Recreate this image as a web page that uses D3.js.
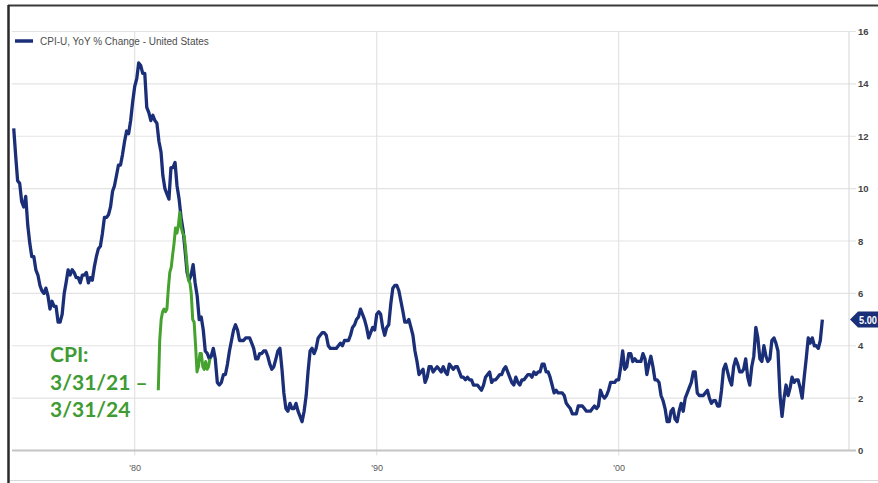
<!DOCTYPE html>
<html>
<head>
<meta charset="utf-8">
<script src="https://cdn.jsdelivr.net/npm/d3@7"></script>
<style>
  html, body { margin: 0; padding: 0; background: #fff; }
  svg { display: block; }
</style>
</head>
<body>
<svg id="chart" width="878" height="483"></svg>
<script>
// CPI-U, YoY % change, monthly from Jan 1975
const cpiStart = [1975, 0];
const cpiValues = [
  12.3, 11.2, 10.3, 10.2, 9.5, 9.3, 9.7, 8.6, 7.9, 7.4, 7.4, 6.9,   // 1975
  6.7, 6.3, 6.1, 6.0, 6.2, 5.9, 5.4, 5.7, 5.5, 5.5, 4.9, 4.9,       // 1976
  5.2, 6.0, 6.4, 6.9, 6.7, 6.9, 6.8, 6.6, 6.6, 6.4, 6.7, 6.7,       // 1977
  6.8, 6.4, 6.6, 6.5, 7.0, 7.4, 7.7, 7.8, 8.3, 8.9, 8.9, 9.0,       // 1978
  9.3, 9.9, 10.1, 10.5, 10.9, 10.9, 11.3, 11.8, 12.2, 12.1, 12.6, 13.3, // 1979
  13.9, 14.2, 14.8, 14.7, 14.4, 14.4, 13.1, 12.9, 12.6, 12.8, 12.6, 12.5, // 1980
  11.8, 11.4, 10.5, 10.0, 9.8, 9.6, 10.8, 10.8, 11.0, 10.1, 9.6, 8.9, // 1981
  8.4, 7.6, 6.8, 6.5, 6.7, 7.1, 6.4, 5.9, 5.0, 5.1, 4.6, 3.8,       // 1982
  3.7, 3.5, 3.6, 3.9, 3.5, 2.6, 2.5, 2.6, 2.9, 2.9, 3.3, 3.8,       // 1983
  4.2, 4.6, 4.8, 4.6, 4.2, 4.2, 4.2, 4.3, 4.3, 4.3, 4.1, 3.9,       // 1984
  3.5, 3.5, 3.7, 3.7, 3.8, 3.8, 3.6, 3.3, 3.1, 3.2, 3.5, 3.8,       // 1985
  3.9, 3.1, 2.2, 1.6, 1.5, 1.8, 1.6, 1.6, 1.8, 1.5, 1.3, 1.1,       // 1986
  1.5, 2.1, 3.0, 3.8, 3.9, 3.7, 3.9, 4.3, 4.4, 4.5, 4.5, 4.4,       // 1987
  4.0, 3.9, 3.9, 3.9, 3.9, 4.0, 4.1, 4.0, 4.2, 4.2, 4.2, 4.4,       // 1988
  4.7, 4.8, 5.0, 5.1, 5.4, 5.2, 5.0, 4.7, 4.3, 4.5, 4.7, 4.6,       // 1989
  5.2, 5.3, 5.2, 4.7, 4.4, 4.7, 4.8, 5.6, 6.2, 6.3, 6.3, 6.1,       // 1990
  5.7, 5.3, 4.9, 4.9, 5.0, 4.7, 4.4, 3.8, 3.4, 2.9, 3.0, 3.1,       // 1991
  2.6, 2.8, 3.2, 3.2, 3.0, 3.1, 3.2, 3.1, 3.0, 3.2, 3.0, 2.9,       // 1992
  3.3, 3.2, 3.1, 3.2, 3.2, 3.0, 2.8, 2.8, 2.7, 2.8, 2.7, 2.7,       // 1993
  2.5, 2.5, 2.5, 2.4, 2.3, 2.5, 2.8, 2.9, 3.0, 2.6, 2.7, 2.7,       // 1994
  2.8, 2.9, 2.9, 3.1, 3.2, 3.0, 2.8, 2.6, 2.5, 2.8, 2.6, 2.5,       // 1995
  2.7, 2.7, 2.8, 2.9, 2.9, 2.8, 3.0, 2.9, 3.0, 3.0, 3.3, 3.3,       // 1996
  3.0, 3.0, 2.8, 2.5, 2.2, 2.3, 2.2, 2.2, 2.2, 2.1, 1.8, 1.7,       // 1997
  1.6, 1.4, 1.4, 1.4, 1.7, 1.7, 1.7, 1.6, 1.5, 1.5, 1.5, 1.6,       // 1998
  1.7, 1.6, 1.7, 2.3, 2.1, 2.0, 2.1, 2.3, 2.6, 2.6, 2.6, 2.7,       // 1999
  2.7, 3.2, 3.8, 3.1, 3.2, 3.7, 3.7, 3.4, 3.5, 3.4, 3.4, 3.4,       // 2000
  3.7, 3.5, 2.9, 3.3, 3.6, 3.2, 2.7, 2.7, 2.6, 2.1, 1.9, 1.6,       // 2001
  1.1, 1.1, 1.5, 1.6, 1.2, 1.1, 1.5, 1.8, 1.5, 2.0, 2.2, 2.4,       // 2002
  2.6, 3.0, 3.0, 2.2, 2.1, 2.1, 2.1, 2.2, 2.3, 2.0, 1.8, 1.9,       // 2003
  1.9, 1.7, 1.7, 2.3, 3.1, 3.3, 3.0, 2.7, 2.5, 3.2, 3.5, 3.3,       // 2004
  3.0, 3.0, 3.1, 3.5, 2.8, 2.5, 3.2, 3.6, 4.7, 4.3, 3.5, 3.4,       // 2005
  4.0, 3.6, 3.4, 3.5, 4.2, 4.3, 4.1, 3.8, 2.1, 1.3, 2.0, 2.5,       // 2006
  2.1, 2.4, 2.8, 2.6, 2.7, 2.7, 2.4, 2.0, 2.8, 3.5, 4.3, 4.1,       // 2007
  4.3, 4.0, 4.0, 3.9, 4.2, 5.0                                      // 2008
];

// Overlay: CPI 3/31/21 - 3/31/24, monthly, pasted over the early '80s
const overlayStart = [2021, 2];
const overlayValues = [
  2.3, 4.2, 5.0, 5.3, 5.4, 5.3, 5.4, 6.2, 6.8, 7.0, 7.5, 7.9,
  8.5, 8.3, 8.6, 9.1, 8.5, 8.3, 8.2, 7.7, 7.1, 6.5, 6.4, 6.0,
  5.0, 4.9, 4.0, 3.0, 3.2, 3.7, 3.7, 3.2, 3.1, 3.4, 3.1, 3.2, 3.5
];
// where the overlay sits on the main time axis
const overlayPlaced = [new Date(1980, 11, 22), new Date(1983, 1, 10)];

const yTicks = [0, 2, 4, 6, 8, 10, 12, 14, 16];
const xTickYears = [1980, 1990, 2000];
const xTickLabels = ["'80", "'90", "'00"];
const legendLabel = "CPI-U, YoY % Change - United States";
const lastLabel = "5.00";
const noteLines = ["CPI:", "3/31/21 \u2013", "3/31/24"];

const navy = '#1b2f78';
const green = '#45a22f';

const svg = d3.select('#chart');
const plot = { left: 12, right: 849, top: 31.5, bottom: 450.5 };

const x = d3.scaleTime()
    .domain([new Date(1974, 11, 6), new Date(2009, 6, 8)])
    .range([plot.left, plot.right]);
const y = d3.scaleLinear()
    .domain([0, 16])
    .range([plot.bottom, plot.top]);

const cpi = cpiValues.map((v, i) => ({ date: new Date(cpiStart[0], cpiStart[1] + i, 1), value: v }));
const overlay = overlayValues.map((v, i) => ({ date: new Date(overlayStart[0], overlayStart[1] + i + 1, 0), value: v }));
const xOverlay = d3.scaleTime()
    .domain([overlay[0].date, overlay[overlay.length - 1].date])
    .range(overlayPlaced.map(d => x(d)));

// outer frame
svg.append('rect').attr('x', 0).attr('y', 0).attr('width', 878).attr('height', 483).attr('fill', '#fff');
svg.append('line').attr('x1', 8).attr('x2', 878).attr('y1', 5.5).attr('y2', 5.5)
    .attr('stroke', '#3a3a3a').attr('stroke-width', 2);
svg.append('line').attr('x1', 8.5).attr('x2', 8.5).attr('y1', 5).attr('y2', 483)
    .attr('stroke', '#2a2a2a').attr('stroke-width', 2.5);
svg.append('line').attr('x1', 10).attr('x2', 878).attr('y1', 480.5).attr('y2', 480.5)
    .attr('stroke', '#d8d8d8').attr('stroke-width', 1);

// gridlines
svg.append('g')
  .selectAll('line')
  .data(yTicks.filter(d => d > 0))
  .join('line')
    .attr('x1', plot.left).attr('x2', plot.right + 7)
    .attr('y1', d => y(d)).attr('y2', d => y(d))
    .attr('stroke', '#e3e3e3').attr('stroke-width', 1.2);

svg.append('g')
  .selectAll('line')
  .data(xTickYears)
  .join('line')
    .attr('x1', d => x(new Date(d, 0, 1))).attr('x2', d => x(new Date(d, 0, 1)))
    .attr('y1', plot.top).attr('y2', plot.bottom + 5)
    .attr('stroke', '#e3e3e3').attr('stroke-width', 1.2);

// right plot edge and bottom axis line
svg.append('line').attr('x1', plot.right).attr('x2', plot.right)
    .attr('y1', plot.top).attr('y2', plot.bottom)
    .attr('stroke', '#dcdcdc').attr('stroke-width', 1.2);
svg.append('line').attr('x1', plot.left).attr('x2', plot.right + 7)
    .attr('y1', plot.bottom).attr('y2', plot.bottom)
    .attr('stroke', '#c4c4c4').attr('stroke-width', 2);

// y axis on the right
const yAxis = d3.axisRight(y).tickValues(yTicks).tickSize(0).tickPadding(9);
const yg = svg.append('g').attr('transform', `translate(${plot.right},0)`).call(yAxis);
yg.select('.domain').remove();
yg.selectAll('text')
    .attr('font-family', 'Liberation Sans, Arial, sans-serif')
    .attr('font-size', 9.5).attr('font-weight', 'bold').attr('fill', '#444');

// x axis labels
const xAxis = d3.axisBottom(x)
    .tickValues(xTickYears.map(d => new Date(d, 0, 1)))
    .tickFormat((d, i) => xTickLabels[i])
    .tickSize(0).tickPadding(14);
const xg = svg.append('g').attr('transform', `translate(0,${plot.bottom})`).call(xAxis);
xg.select('.domain').remove();
xg.selectAll('text')
    .attr('font-family', 'Liberation Sans, Arial, sans-serif')
    .attr('font-size', 9).attr('fill', '#5a5a5a');

// lines
const line = d3.line().x(d => x(d.date)).y(d => y(d.value));
svg.append('path').datum(cpi)
    .attr('d', line)
    .attr('fill', 'none').attr('stroke', navy).attr('stroke-width', 3.3)
    .attr('stroke-linejoin', 'round');

const overlayLine = d3.line().x(d => xOverlay(d.date)).y(d => y(d.value));
svg.append('path').datum(overlay)
    .attr('d', overlayLine)
    .attr('fill', 'none').attr('stroke', green).attr('stroke-width', 3)
    .attr('stroke-linejoin', 'round');

// legend
svg.append('line').attr('x1', 15).attr('x2', 33).attr('y1', 41).attr('y2', 41)
    .attr('stroke', navy).attr('stroke-width', 3.5);
svg.append('text').attr('x', 40).attr('y', 44.5)
    .attr('font-family', 'Liberation Sans, Arial, sans-serif')
    .attr('font-size', 10).attr('fill', '#4d4d4d')
    .text(legendLabel);

// last value flag
const last = cpi[cpi.length - 1];
const fy = y(last.value);
const fx = plot.right + 1;
svg.append('path')
    .attr('d', `M${fx},${fy} L${fx + 8},${fy - 8} L878,${fy - 8} L878,${fy + 8} L${fx + 8},${fy + 8} Z`)
    .attr('fill', navy);
svg.append('text').attr('x', fx + 9).attr('y', fy + 4)
    .attr('font-family', 'Liberation Sans, Arial, sans-serif')
    .attr('font-size', 10.5).attr('font-weight', 'bold').attr('fill', '#fff')
    .attr('textLength', 18).attr('lengthAdjust', 'spacingAndGlyphs')
    .text(lastLabel);

// annotation
svg.append('text')
    .attr('font-family', 'Lato, "Open Sans", sans-serif')
    .attr('font-size', 21).attr('font-weight', 'bold').attr('fill', '#3f9b33')
  .selectAll('tspan')
  .data(noteLines)
  .join('tspan')
    .attr('x', 50)
    .attr('y', (d, i) => 362 + i * 27.5)
    .text(d => d);
</script>
</body>
</html>
